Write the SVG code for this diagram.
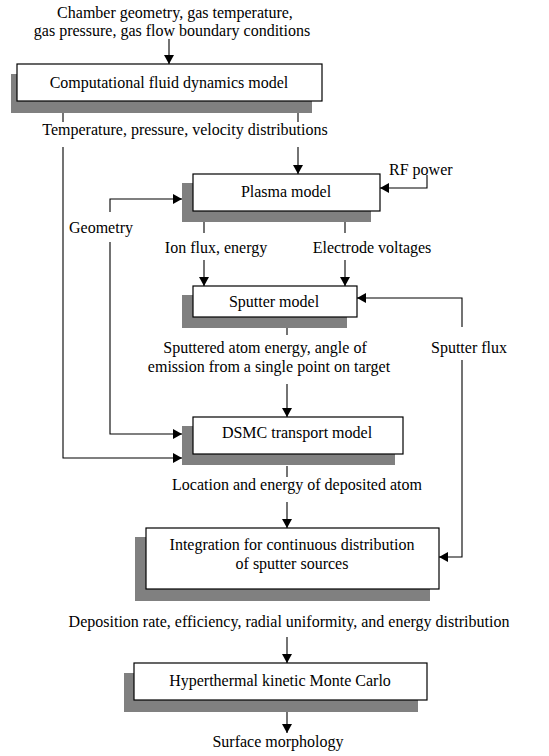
<svg xmlns="http://www.w3.org/2000/svg" width="549" height="756" viewBox="0 0 549 756">
<style>
text{font-family:"Liberation Serif","Times New Roman",serif;font-size:16px;fill:#000;text-anchor:middle}
.box{fill:#fff;stroke:#000;stroke-width:1.2}
.sh{fill:#808080}
.c{fill:none;stroke:#000;stroke-width:1.1}
.a{marker-end:url(#ah)}
</style>
<defs>
<marker id="ah" markerUnits="userSpaceOnUse" markerWidth="10" markerHeight="10" refX="9" refY="5" orient="auto">
<path d="M0,0 L9,5 L0,10 z" fill="#000"/>
</marker>
</defs>
<rect width="549" height="756" fill="#fff"/>
<g id="labels">
<text x="175" y="18">Chamber geometry, gas temperature,</text>
<text x="172" y="36">gas pressure, gas flow boundary conditions</text>
<text x="185" y="135">Temperature, pressure, velocity distributions</text>
<text x="389" y="175" style="text-anchor:start">RF power</text>
<text x="101" y="233">Geometry</text>
<text x="216" y="253">Ion flux, energy</text>
<text x="372" y="253">Electrode voltages</text>
<text x="469" y="353">Sputter flux</text>
<text x="265" y="353">Sputtered atom energy, angle of</text>
<text x="269" y="372">emission from a single point on target</text>
<text x="297" y="490">Location and energy of deposited atom</text>
<text x="289" y="627">Deposition rate, efficiency, radial uniformity, and energy distribution</text>
<text x="278" y="747">Surface morphology</text>
</g>
<g id="connectors">
<path class="c a" d="M169,39 V64"/>
<path class="c" d="M63,113 V122"/>
<path class="c a" d="M63,147 V458 H182"/>
<path class="c" d="M298,113 V122"/>
<path class="c a" d="M298,147 V174"/>
<path class="c a" d="M427,175 V188 H380"/>
<path class="c a" d="M110,212 V199 H182"/>
<path class="c a" d="M110,242 V434 H182"/>
<path class="c" d="M204,222 V233"/>
<path class="c a" d="M204,260 V286"/>
<path class="c" d="M345,222 V233"/>
<path class="c a" d="M345,260 V286"/>
<path class="c a" d="M462,327 V298 H357"/>
<path class="c a" d="M462,360 V557 H439"/>
<path class="c" d="M287,328 V335"/>
<path class="c a" d="M287,384 V417"/>
<path class="c" d="M287,466 V477"/>
<path class="c a" d="M287,502 V528"/>
<path class="c a" d="M287,637 V663"/>
<path class="c a" d="M287,712 V733"/>
</g>
<g id="cfd">
<rect class="sh" x="11" y="74" width="301" height="39"/>
<rect class="box" x="17" y="64" width="305" height="37"/>
<text x="169" y="88">Computational fluid dynamics model</text>
</g>
<g id="plasma">
<rect class="sh" x="182" y="183" width="189" height="39"/>
<rect class="box" x="193" y="174" width="187" height="37"/>
<text x="286" y="197">Plasma model</text>
</g>
<g id="sputter">
<rect class="sh" x="182" y="295" width="165" height="33"/>
<rect class="box" x="193" y="286" width="164" height="31"/>
<text x="274" y="307">Sputter model</text>
</g>
<g id="dsmc">
<rect class="sh" x="182" y="426" width="213" height="39"/>
<rect class="box" x="193" y="417" width="210" height="37"/>
<text x="297" y="438">DSMC transport model</text>
</g>
<g id="integration">
<rect class="sh" x="135" y="537" width="295" height="64"/>
<rect class="box" x="146" y="528" width="293" height="61"/>
<text x="292" y="550">Integration for continuous distribution</text>
<text x="292" y="569">of sputter sources</text>
</g>
<g id="hkmc">
<rect class="sh" x="124" y="673" width="294" height="39"/>
<rect class="box" x="134" y="663" width="293" height="37"/>
<text x="280" y="686">Hyperthermal kinetic Monte Carlo</text>
</g>
</svg>
